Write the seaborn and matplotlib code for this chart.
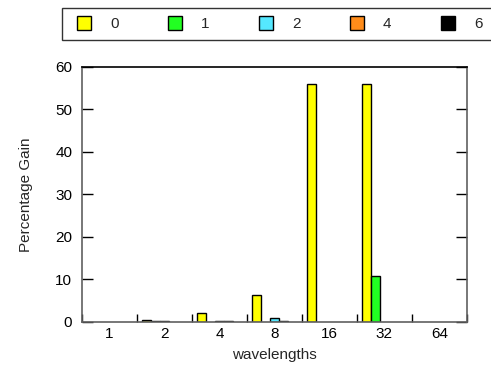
import matplotlib
matplotlib.use("Agg")
import matplotlib.pyplot as plt
from matplotlib.lines import Line2D
from matplotlib.ticker import FixedLocator
import seaborn as sns
import pandas as pd

# Percentage gain per wavelength count, one series per setting
wavelengths = ["1", "2", "4", "8", "16", "32", "64"]
series_names = ["0", "1", "2", "4", "6"]
gain_0 = [0.0, 0.5, 2.2, 6.3, 55.8, 55.8, 0.0]
gain_1 = [0.0, 0.15, 0.0, 0.0, 0.0, 10.9, 0.0]
gain_2 = [0.0, 0.1, 0.1, 0.8, 0.0, 0.0, 0.0]
gain_4 = [0.0, 0.0, 0.1, 0.3, 0.0, 0.0, 0.0]
gain_6 = [0.0, 0.0, 0.0, 0.0, 0.0, 0.0, 0.0]
colors = ["#ffff00", "#22ff22", "#55e8ff", "#ff8c1a", "#000000"]

rows = []
for name, vals in zip(series_names, [gain_0, gain_1, gain_2, gain_4, gain_6]):
    for w, v in zip(wavelengths, vals):
        rows.append({"wavelengths": w, "series": name, "gain": v})
df = pd.DataFrame(rows)

sns.set_theme(style="white")
plt.rcParams["font.family"] = ["Liberation Sans", "DejaVu Sans"]

fig = plt.figure(figsize=(4.91, 3.70), dpi=100)
ax = fig.add_axes([0.167, 0.130, 0.784, 0.690])

sns.barplot(data=df, x="wavelengths", y="gain", hue="series",
            order=wavelengths, hue_order=series_names,
            palette=colors, width=5 / 6, saturation=1,
            edgecolor="black", linewidth=1.0, ax=ax, legend=False)

# hide outlines of empty bars
for p in ax.patches:
    if p.get_height() == 0:
        p.set_edgecolor("none")

ax.set_xlim(-0.5, len(wavelengths) - 0.5)
ax.set_ylim(0, 60)
ax.set_yticks(range(0, 61, 10))
ax.set_xlabel("wavelengths", fontsize=11, labelpad=5)
ax.set_ylabel("Percentage Gain", fontsize=11, labelpad=16)

ax.xaxis.set_minor_locator(FixedLocator([i + 0.5 for i in range(-1, len(wavelengths))]))
ax.tick_params(axis="x", which="major", length=0, pad=4, labelsize=11, colors="black")
ax.tick_params(axis="x", which="minor", direction="in", length=6, width=1,
               bottom=True, top=False, color="black")
ax.tick_params(axis="y", which="major", direction="in", length=8, width=1,
               left=True, right=True, pad=7, labelsize=11, colors="black")

for side, sp in ax.spines.items():
    sp.set_visible(True)
    sp.set_color("#606060" if side != "top" else "black")
    sp.set_linewidth(1.2)

handles = [Line2D([0], [0], marker="s", linestyle="none", markersize=10.5,
                  markerfacecolor=c, markeredgecolor="black", markeredgewidth=1)
           for c in colors]
leg = fig.legend(handles, series_names, loc="upper left",
                 bbox_to_anchor=(0.126, 0.978), ncol=5, fontsize=11,
                 frameon=True, fancybox=False, edgecolor="black",
                 handlelength=1.7, handletextpad=0.85, columnspacing=2.85,
                 borderpad=0.6, borderaxespad=0)
leg.get_frame().set_linewidth(1.0)

fig.savefig("out.png", dpi=100)
